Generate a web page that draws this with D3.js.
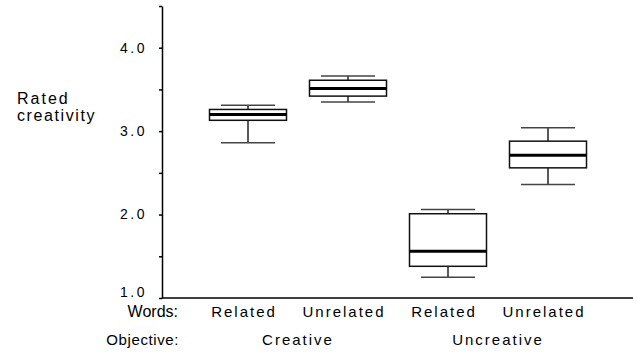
<!DOCTYPE html>
<html>
<head>
<meta charset="utf-8">
<script src="https://cdn.jsdelivr.net/npm/d3@7"></script>
<style>
  body { margin: 0; background: #fff; }
  svg { display: block; font-family: Arial, "Liberation Sans", sans-serif; }
</style>
</head>
<body>
<div id="chart"></div>
<script>
// groups / conditions
const words = ["Related", "Unrelated", "Related", "Unrelated"];
const objectives = ["Creative", "Uncreative"];
// box stats: [lower whisker, q1, median, q3, upper whisker]
const whiskLow = [2.86, 3.35, 1.25, 2.36];
const q1 = [3.13, 3.42, 1.38, 2.56];
const median = [3.20, 3.51, 1.56, 2.71];
const q3 = [3.26, 3.61, 2.01, 2.88];
const whiskHigh = [3.31, 3.66, 2.06, 3.04];
const yTicks = [1.0, 1.5, 2.0, 2.5, 3.0, 3.5, 4.0, 4.5];
const yLabels = [1.0, 2.0, 3.0, 4.0];

const width = 636, height = 352;
const svg = d3.select("#chart").append("svg")
    .attr("width", width)
    .attr("height", height);

const axisX = 162;
const y = d3.scaleLinear().domain([1, 4.5]).range([298, 6]);
const x = d3.scalePoint().domain(d3.range(4)).range([198, 598]).padding(0.5);

const boxW = 77, capW = 54;

// y axis
const yAxis = svg.append("g")
    .attr("transform", `translate(${axisX},0)`)
    .call(d3.axisLeft(y).tickValues(yTicks).tickSize(3).tickSizeOuter(0).tickFormat(""));
yAxis.select(".domain").attr("stroke", "#000").attr("stroke-width", 1.5);
yAxis.selectAll(".tick line").attr("stroke", "#000").attr("stroke-width", 1.5);

// the bottom label sits a little higher so it clears the "Words:" row
svg.append("g").selectAll("text")
    .data(yLabels)
    .enter()
    .append("text")
    .attr("x", 147)
    .attr("y", (d) => y(d))
    .attr("dy", (d) => d === 1 ? "-0.05em" : "0.35em")
    .attr("text-anchor", "end")
    .attr("font-size", 14)
    .attr("letter-spacing", "2.5px")
    .attr("fill", "#000")
    .text((d) => d.toFixed(1));

// x axis line
svg.append("line")
    .attr("x1", axisX).attr("x2", 633)
    .attr("y1", y(1)).attr("y2", y(1))
    .attr("stroke", "#000").attr("stroke-width", 1.5);

// y title
svg.append("text")
    .attr("x", 17).attr("y", 104)
    .attr("font-size", 16).attr("letter-spacing", "2px")
    .text("Rated");
svg.append("text")
    .attr("x", 17).attr("y", 121)
    .attr("font-size", 16).attr("letter-spacing", "1.6px")
    .text("creativity");

// boxes
const boxes = svg.append("g")
    .selectAll("g")
    .data(d3.range(4))
    .enter()
    .append("g");

// whisker stems
boxes.append("line")
    .attr("x1", (i) => x(i)).attr("x2", (i) => x(i))
    .attr("y1", (i) => y(whiskHigh[i])).attr("y2", (i) => y(q3[i]))
    .attr("stroke", "#222").attr("stroke-width", 1.5);
boxes.append("line")
    .attr("x1", (i) => x(i)).attr("x2", (i) => x(i))
    .attr("y1", (i) => y(q1[i])).attr("y2", (i) => y(whiskLow[i]))
    .attr("stroke", "#222").attr("stroke-width", 1.5);
// caps
boxes.append("line")
    .attr("x1", (i) => x(i) - capW / 2).attr("x2", (i) => x(i) + capW / 2)
    .attr("y1", (i) => y(whiskHigh[i])).attr("y2", (i) => y(whiskHigh[i]))
    .attr("stroke", "#444").attr("stroke-width", 1.5);
boxes.append("line")
    .attr("x1", (i) => x(i) - capW / 2).attr("x2", (i) => x(i) + capW / 2)
    .attr("y1", (i) => y(whiskLow[i])).attr("y2", (i) => y(whiskLow[i]))
    .attr("stroke", "#444").attr("stroke-width", 1.5);
// box
boxes.append("rect")
    .attr("x", (i) => x(i) - boxW / 2)
    .attr("width", boxW)
    .attr("y", (i) => y(q3[i]))
    .attr("height", (i) => y(q1[i]) - y(q3[i]))
    .attr("fill", "#fff")
    .attr("stroke", "#111").attr("stroke-width", 1.5);
// median
boxes.append("line")
    .attr("x1", (i) => x(i) - boxW / 2).attr("x2", (i) => x(i) + boxW / 2)
    .attr("y1", (i) => y(median[i])).attr("y2", (i) => y(median[i]))
    .attr("stroke", "#000").attr("stroke-width", 3);

// category labels
svg.append("text")
    .attr("x", 178).attr("y", 317)
    .attr("text-anchor", "end").attr("font-size", 16)
    .text("Words:");
svg.append("text")
    .attr("x", 179).attr("y", 345)
    .attr("text-anchor", "end").attr("font-size", 15).attr("letter-spacing", "0.6px")
    .text("Objective:");

svg.append("g").selectAll("text")
    .data(words)
    .enter()
    .append("text")
    .attr("x", (d, i) => x(i) - 4)
    .attr("y", 317)
    .attr("text-anchor", "middle")
    .attr("font-size", 15)
    .attr("letter-spacing", "2px")
    .text((d) => d);

svg.append("g").selectAll("text")
    .data(objectives)
    .enter()
    .append("text")
    .attr("x", (d, i) => (x(i * 2) + x(i * 2 + 1)) / 2)
    .attr("y", 345)
    .attr("text-anchor", "middle")
    .attr("font-size", 15)
    .attr("letter-spacing", "2px")
    .text((d) => d);
</script>
</body>
</html>
